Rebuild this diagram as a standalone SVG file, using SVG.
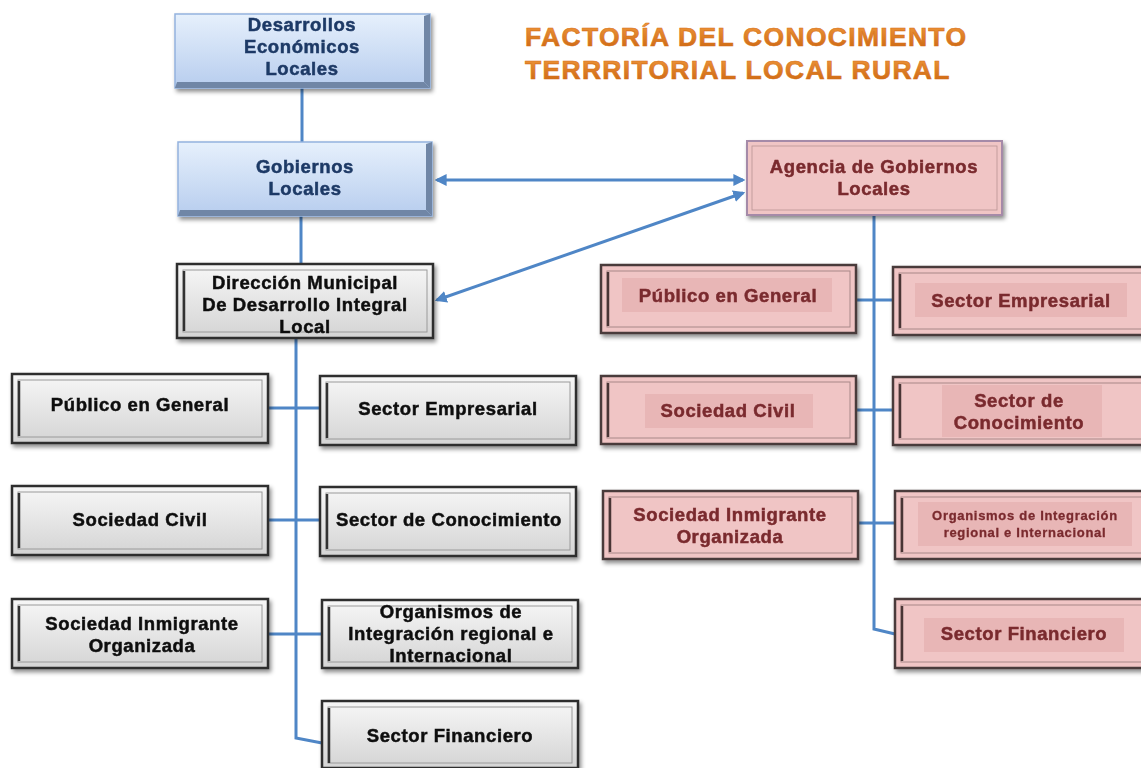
<svg xmlns="http://www.w3.org/2000/svg" width="1141" height="768" viewBox="0 0 1141 768">
<defs>
<linearGradient id="gBlue" x1="0" y1="0" x2="0" y2="1"><stop offset="0" stop-color="#e6f0fc"/><stop offset="1" stop-color="#b7cdee"/></linearGradient>
<linearGradient id="gGray" x1="0" y1="0" x2="0" y2="1"><stop offset="0" stop-color="#f7f7f7"/><stop offset="1" stop-color="#d4d4d4"/></linearGradient>
<linearGradient id="gTitle" x1="0" y1="0" x2="0" y2="1"><stop offset="0" stop-color="#f19a3e"/><stop offset="1" stop-color="#c9620e"/></linearGradient>
<filter id="sh" x="-10%" y="-10%" width="125%" height="140%"><feDropShadow dx="2" dy="3" stdDeviation="2" flood-color="#000" flood-opacity="0.45"/></filter>
<marker id="ah" viewBox="0 0 10 10" refX="8" refY="5" markerWidth="4" markerHeight="4" orient="auto-start-reverse"><path d="M0,0 L10,5 L0,10 z" fill="#4f86c6"/></marker>
<style>
.t{font-family:"Liberation Sans",Arial,sans-serif;font-weight:bold;text-anchor:middle;font-size:18.5px;letter-spacing:0.6px;stroke-width:0.5px}
.tb{fill:#1f3a66;stroke:#1f3a66}
.tg{fill:#111;stroke:#111}
.tp{fill:#7a2a2e;stroke:#7a2a2e}
.sm{font-size:13px;letter-spacing:0.7px;stroke-width:0.3px}
.blue{fill:url(#gBlue);stroke:#94b3de;stroke-width:1.5}
.bev{fill:#6f86a6}
.gray{fill:url(#gGray);stroke:#2e2e2e;stroke-width:2.5}
.gin{fill:none;stroke:#9a9a9a;stroke-width:1}
.lft{stroke:#333;stroke-width:2.5}
.pink{fill:#f0c5c5;stroke:#4a3a3a;stroke-width:2.5}
.pin{fill:none;stroke:#a88888;stroke-width:1}
.plft{stroke:#4a3434;stroke-width:2.5}
.pbg{fill:#e8b6b6}
.c{fill:none;stroke:#4f86c6;stroke-width:3}
</style>
</defs>
<rect width="1141" height="768" fill="#fff"/>

<g id="title" font-family="'Liberation Sans',Arial,sans-serif" font-weight="bold" font-size="26.5" letter-spacing="1.3" fill="url(#gTitle)" stroke="#d77119" stroke-width="0.6">
<text x="525" y="46">FACTORÍA DEL CONOCIMIENTO</text>
<text x="525" y="79">TERRRITORIAL LOCAL RURAL</text>
</g>

<g id="connectors">
<line class="c" x1="302" y1="88" x2="302" y2="142"/>
<line class="c" x1="301" y1="216" x2="301" y2="264"/>
<polyline class="c" points="296,338 296,738 322,743"/>
<line class="c" x1="268" y1="408" x2="320" y2="408"/>
<line class="c" x1="268" y1="520" x2="320" y2="520"/>
<line class="c" x1="268" y1="634" x2="322" y2="634"/>
<polyline class="c" points="874,215 874,629 895,634"/>
<line class="c" x1="856" y1="300" x2="893" y2="300"/>
<line class="c" x1="856" y1="410" x2="893" y2="410"/>
<line class="c" x1="858" y1="523" x2="895" y2="523"/>
<line class="c" x1="437" y1="180" x2="743" y2="180" marker-start="url(#ah)" marker-end="url(#ah)"/>
<line class="c" x1="437" y1="300" x2="743" y2="193" marker-start="url(#ah)" marker-end="url(#ah)"/>
</g>

<g id="desarrollos" filter="url(#sh)">
<rect class="blue" x="175" y="14" width="255" height="74"/>
<polygon class="bev" points="424,16 430,14 430,88 424,82"/>
<polygon class="bev" points="177,82 424,82 430,88 175,88"/>
<text class="t tb" x="302" y="31">Desarrollos</text>
<text class="t tb" x="302" y="53">Económicos</text>
<text class="t tb" x="302" y="75">Locales</text>
</g>

<g id="gobiernos" filter="url(#sh)">
<rect class="blue" x="178" y="142" width="254" height="74"/>
<polygon class="bev" points="426,144 432,142 432,216 426,210"/>
<polygon class="bev" points="180,210 426,210 432,216 178,216"/>
<text class="t tb" x="305" y="173">Gobiernos</text>
<text class="t tb" x="305" y="195">Locales</text>
</g>

<g id="direccion" filter="url(#sh)">
<rect class="gray" x="177" y="264" width="256" height="74"/>
<rect class="gin" x="183" y="270" width="244" height="62"/>
<line class="lft" x1="184" y1="271" x2="184" y2="331"/>
<text class="t tg" x="305" y="289">Dirección Municipal</text>
<text class="t tg" x="305" y="311">De Desarrollo Integral</text>
<text class="t tg" x="305" y="333">Local</text>
</g>

<g id="g-publico" filter="url(#sh)">
<rect class="gray" x="12" y="374" width="256" height="69"/>
<rect class="gin" x="18" y="380" width="244" height="57"/>
<line class="lft" x1="19" y1="381" x2="19" y2="436"/>
<text class="t tg" x="140" y="411">Público en General</text>
</g>
<g id="g-empresarial" filter="url(#sh)">
<rect class="gray" x="320" y="376" width="256" height="69"/>
<rect class="gin" x="326" y="382" width="244" height="57"/>
<line class="lft" x1="327" y1="383" x2="327" y2="438"/>
<text class="t tg" x="448" y="415">Sector Empresarial</text>
</g>
<g id="g-civil" filter="url(#sh)">
<rect class="gray" x="12" y="486" width="256" height="69"/>
<rect class="gin" x="18" y="492" width="244" height="57"/>
<line class="lft" x1="19" y1="493" x2="19" y2="548"/>
<text class="t tg" x="140" y="526">Sociedad Civil</text>
</g>
<g id="g-conocimiento" filter="url(#sh)">
<rect class="gray" x="320" y="487" width="256" height="69"/>
<rect class="gin" x="326" y="493" width="244" height="57"/>
<line class="lft" x1="327" y1="494" x2="327" y2="549"/>
<text class="t tg" x="449" y="526">Sector de Conocimiento</text>
</g>
<g id="g-inmigrante" filter="url(#sh)">
<rect class="gray" x="12" y="599" width="256" height="69"/>
<rect class="gin" x="18" y="605" width="244" height="57"/>
<line class="lft" x1="19" y1="606" x2="19" y2="661"/>
<text class="t tg" x="142" y="630">Sociedad Inmigrante</text>
<text class="t tg" x="142" y="652">Organizada</text>
</g>
<g id="g-organismos" filter="url(#sh)">
<rect class="gray" x="322" y="600" width="256" height="68"/>
<rect class="gin" x="328" y="606" width="244" height="56"/>
<line class="lft" x1="329" y1="607" x2="329" y2="661"/>
<text class="t tg" x="451" y="618">Organismos de</text>
<text class="t tg" x="451" y="640">Integración regional e</text>
<text class="t tg" x="451" y="662">Internacional</text>
</g>
<g id="g-financiero" filter="url(#sh)">
<rect class="gray" x="322" y="701" width="256" height="67"/>
<rect class="gin" x="328" y="707" width="244" height="56"/>
<line class="lft" x1="329" y1="708" x2="329" y2="763"/>
<text class="t tg" x="450" y="742">Sector Financiero</text>
</g>

<g id="agencia" filter="url(#sh)">
<rect x="747" y="141" width="255" height="74" fill="#f0c5c5" stroke="#a58aa8" stroke-width="2"/>
<rect x="752" y="146" width="245" height="64" fill="none" stroke="#b89595" stroke-width="0.8"/>
<text class="t tp" x="874" y="173">Agencia de Gobiernos</text>
<text class="t tp" x="874" y="195">Locales</text>
</g>

<g id="p-publico" filter="url(#sh)">
<rect class="pink" x="601" y="265" width="255" height="68"/>
<rect class="pin" x="607" y="271" width="243" height="56"/>
<line class="plft" x1="608" y1="272" x2="608" y2="326"/>
<rect class="pbg" x="622" y="278" width="210" height="34"/>
<text class="t tp" x="728" y="302">Público en General</text>
</g>
<g id="p-empresarial" filter="url(#sh)">
<rect class="pink" x="893" y="267" width="256" height="68"/>
<rect class="pin" x="899" y="273" width="244" height="56"/>
<line class="plft" x1="900" y1="274" x2="900" y2="328"/>
<rect class="pbg" x="915" y="283" width="212" height="34"/>
<text class="t tp" x="1021" y="307">Sector Empresarial</text>
</g>
<g id="p-civil" filter="url(#sh)">
<rect class="pink" x="601" y="376" width="255" height="68"/>
<rect class="pin" x="607" y="382" width="243" height="56"/>
<line class="plft" x1="608" y1="383" x2="608" y2="437"/>
<rect class="pbg" x="645" y="394" width="168" height="34"/>
<text class="t tp" x="728" y="417">Sociedad Civil</text>
</g>
<g id="p-conocimiento" filter="url(#sh)">
<rect class="pink" x="893" y="377" width="256" height="68"/>
<rect class="pin" x="899" y="383" width="244" height="56"/>
<line class="plft" x1="900" y1="384" x2="900" y2="438"/>
<rect class="pbg" x="942" y="385" width="160" height="52"/>
<text class="t tp" x="1019" y="407">Sector de</text>
<text class="t tp" x="1019" y="429">Conocimiento</text>
</g>
<g id="p-inmigrante" filter="url(#sh)">
<rect class="pink" x="603" y="491" width="255" height="68"/>
<rect class="pin" x="609" y="497" width="243" height="56"/>
<line class="plft" x1="610" y1="498" x2="610" y2="552"/>
<text class="t tp" x="730" y="521">Sociedad Inmigrante</text>
<text class="t tp" x="730" y="543">Organizada</text>
</g>
<g id="p-organismos" filter="url(#sh)">
<rect class="pink" x="895" y="491" width="256" height="68"/>
<rect class="pin" x="901" y="497" width="244" height="56"/>
<line class="plft" x1="902" y1="498" x2="902" y2="552"/>
<rect class="pbg" x="918" y="502" width="214" height="44"/>
<text class="t tp sm" x="1025" y="520">Organismos de Integración</text>
<text class="t tp sm" x="1025" y="537">regional e Internacional</text>
</g>
<g id="p-financiero" filter="url(#sh)">
<rect class="pink" x="895" y="599" width="256" height="69"/>
<rect class="pin" x="901" y="605" width="244" height="57"/>
<line class="plft" x1="902" y1="606" x2="902" y2="661"/>
<rect class="pbg" x="924" y="618" width="200" height="34"/>
<text class="t tp" x="1024" y="640">Sector Financiero</text>
</g>
</svg>
